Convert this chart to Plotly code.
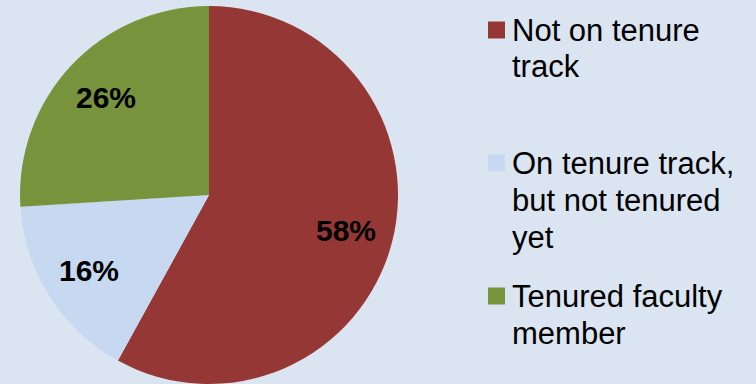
import math
import plotly.graph_objects as go

# Faculty status breakdown
categories = ["Not on tenure<br>track",
              "On tenure track,<br>but not tenured<br>yet",
              "Tenured faculty<br>member"]
shares = [58, 16, 26]
colors = ["#953735", "#c6d9f1", "#77933c"]

W, H = 756, 384
BG = "#dbe5f1"
FONT = "Arial, Liberation Sans, sans-serif"

# pie geometry in pixels
cx, top, radius = 209, 6, 189
cy = top + radius

fig = go.Figure(go.Pie(
    labels=[c.replace("<br>", " ") for c in categories],
    values=shares,
    marker=dict(colors=colors, line=dict(width=0)),
    sort=False,
    direction="clockwise",
    rotation=0,
    textinfo="none",
    hoverinfo="label+percent",
    domain=dict(x=[(cx - radius) / W, (cx + radius) / W],
                y=[1 - (top + 2 * radius) / H, 1 - top / H]),
    showlegend=False,
))

annotations = []

# percentage labels placed along each slice's bisector
total = sum(shares)
start = 0.0
label_r = 0.75 * radius
for v in shares:
    span = 360.0 * v / total
    mid = math.radians(start + span / 2)
    px = cx + label_r * math.sin(mid)
    py = cy - label_r * math.cos(mid)
    annotations.append(dict(text=f"{round(100 * v / total)}%",
                            xref="paper", yref="paper",
                            x=px / W, y=1 - py / H,
                            xanchor="center", yanchor="middle",
                            showarrow=False,
                            font=dict(family=FONT, size=30, color="black",
                                      weight="bold")))
    start += span

# legend drawn as colored squares with wrapped labels
legend_x, legend_top, entry_step, line_step = 488, 30, 133, 37
sq = 17
shapes = []
for i, (cat, col) in enumerate(zip(categories, colors)):
    y0 = legend_top + i * entry_step
    shapes.append(dict(type="rect", xref="paper", yref="paper",
                       x0=legend_x / W, x1=(legend_x + sq) / W,
                       y0=1 - (y0 - sq / 2) / H, y1=1 - (y0 + sq / 2) / H,
                       fillcolor=col, line=dict(width=0)))
    for j, line in enumerate(cat.split("<br>")):
        annotations.append(dict(text=line, xref="paper", yref="paper",
                                x=(legend_x + sq + 5) / W,
                                y=1 - (y0 + j * line_step) / H,
                                xanchor="left", yanchor="middle",
                                showarrow=False,
                                font=dict(family=FONT, size=31, color="black")))

fig.update_layout(
    width=W, height=H,
    margin=dict(l=0, r=0, t=0, b=0),
    paper_bgcolor=BG, plot_bgcolor=BG,
    shapes=shapes, annotations=annotations,
)

fig.write_html("out.html")
